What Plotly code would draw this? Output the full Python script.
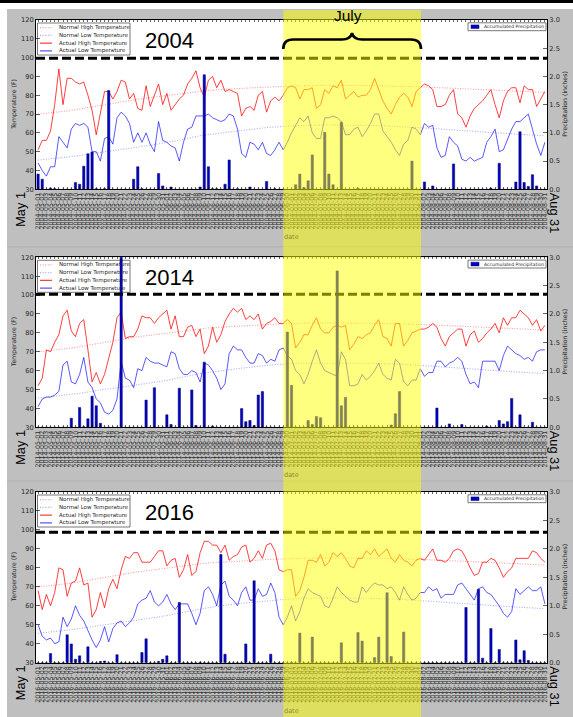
import pandas as pd
import plotly.graph_objects as go

# ---------------- data ----------------
years = [2004, 2014, 2016]

normal_high = [
    70.0, 70.2, 70.4, 70.6, 70.8, 71.0, 71.3, 71.5, 71.9, 72.3,
    72.7, 73.1, 73.5, 73.9, 74.2, 74.6, 75.0, 75.4, 75.7, 76.1,
    76.5, 76.9, 77.2, 77.6, 77.9, 78.2, 78.5, 78.8, 79.1, 79.4,
    79.7, 79.9, 80.2, 80.5, 80.8, 81.1, 81.4, 81.7, 82.0, 82.3,
    82.4, 82.6, 82.7, 82.9, 83.0, 83.1, 83.3, 83.4, 83.5, 83.7,
    83.8, 83.9, 84.0, 84.1, 84.2, 84.4, 84.5, 84.6, 84.7, 84.8,
    85.0, 85.0, 85.1, 85.1, 85.2, 85.2, 85.2, 85.3, 85.3, 85.3,
    85.3, 85.3, 85.3, 85.3, 85.3, 85.2, 85.2, 85.2, 85.2, 85.1,
    85.1, 85.1, 85.0, 85.0, 84.9, 84.9, 84.8, 84.8, 84.7, 84.7,
    84.6, 84.5, 84.5, 84.4, 84.3, 84.2, 84.1, 84.0, 83.9, 83.8,
    83.7, 83.6, 83.5, 83.4, 83.3, 83.2, 83.1, 83.0, 82.9, 82.8,
    82.7, 82.6, 82.5, 82.4, 82.3, 82.2, 82.1, 82.0, 81.9, 81.8,
    81.7, 81.6, 81.5]

normal_low = [
    45.5, 45.7, 45.9, 46.1, 46.3, 46.5, 46.8, 47.0, 47.4, 47.7,
    48.0, 48.4, 48.7, 49.1, 49.4, 49.8, 50.1, 50.3, 50.6, 50.9,
    51.2, 51.5, 51.7, 52.0, 52.3, 52.7, 53.0, 53.4, 53.8, 54.1,
    54.5, 54.8, 55.3, 55.7, 56.2, 56.6, 57.1, 57.5, 58.0, 58.5,
    58.8, 59.1, 59.4, 59.7, 59.9, 60.2, 60.5, 60.8, 61.1, 61.3,
    61.6, 61.8, 62.1, 62.3, 62.6, 62.8, 63.0, 63.2, 63.3, 63.5,
    63.6, 63.7, 63.8, 63.9, 63.9, 64.0, 64.0, 64.1, 64.1, 64.2,
    64.2, 64.2, 64.2, 64.2, 64.2, 64.1, 64.1, 64.1, 64.0, 64.0,
    64.0, 63.9, 63.8, 63.8, 63.7, 63.6, 63.5, 63.4, 63.3, 63.2,
    63.0, 62.9, 62.8, 62.6, 62.5, 62.3, 62.2, 62.0, 61.9, 61.7,
    61.5, 61.4, 61.2, 61.1, 61.0, 60.8, 60.7, 60.5, 60.4, 60.2,
    60.1, 59.9, 59.8, 59.6, 59.5, 59.3, 59.2, 59.1, 58.9, 58.8,
    58.7, 58.6, 58.5]

high_2004 = [
    51, 56, 56, 61, 75, 94, 75, 89, 89, 87,
    86, 87, 80, 72, 59, 70, 82, 82, 78, 82,
    88, 87, 78, 81, 73, 72, 85, 74, 80, 86,
    75, 81, 72, 75, 78, 80, 86, 89, 93, 84,
    79, 88, 90, 84, 88, 82, 83, 82, 81, 69,
    73, 74, 72, 80, 82, 71, 77, 79, 77, 80,
    84, 85, 84, 78, 83, 83, 84, 73, 75, 83,
    81, 85, 84, 88, 78, 80, 82, 79, 80, 80,
    83, 89, 83, 77, 73, 70, 75, 79, 81, 79,
    74, 82, 84, 86, 85, 83, 74, 74, 75, 80,
    83, 70, 68, 63, 69, 73, 75, 77, 80, 83,
    75, 68, 77, 82, 84, 84, 76, 85, 83, 83,
    74, 78, 82]

low_2004 = [
    44, 40, 37, 42, 42, 58, 55, 52, 62, 65,
    64, 65, 63, 50, 50, 45, 57, 58, 54, 68,
    71, 69, 65, 55, 60, 55, 60, 54, 50, 66,
    56, 55, 53, 52, 45, 55, 62, 63, 69, 69,
    69, 70, 68, 67, 66, 67, 70, 69, 62, 49,
    47, 55, 54, 51, 55, 49, 48, 51, 55, 51,
    55, 60, 64, 68, 66, 69, 60, 57, 57, 68,
    68, 69, 68, 66, 59, 59, 62, 63, 58, 61,
    65, 70, 70, 61, 58, 55, 51, 48, 54, 56,
    63, 62, 59, 65, 63, 64, 52, 47, 48, 58,
    55, 53, 46, 45, 47, 45, 46, 47, 55, 58,
    62, 50, 51, 56, 62, 66, 66, 68, 70, 62,
    54, 48, 55]

high_2014 = [
    52, 56, 71, 70, 75, 79, 89, 92, 81, 78,
    85, 87, 71, 54, 59, 53, 58, 66, 75, 88,
    91, 77, 78, 78, 82, 89, 88, 88, 85, 88,
    90, 92, 82, 89, 78, 78, 83, 84, 78, 82,
    69, 73, 83, 75, 79, 86, 90, 93, 91, 93,
    87, 89, 87, 90, 82, 85, 86, 88, 85, 85,
    87, 85, 72, 75, 79, 79, 84, 88, 82, 80,
    80, 83, 84, 83, 84, 71, 74, 78, 77, 79,
    80, 84, 87, 78, 77, 73, 85, 85, 73, 76,
    80, 81, 82, 82, 83, 85, 83, 77, 73, 78,
    80, 82, 82, 73, 79, 81, 75, 77, 80, 82,
    85, 80, 88, 84, 88, 88, 92, 90, 88, 84,
    87, 81, 84]

low_2014 = [
    41, 45, 46, 46, 47, 49, 63, 65, 54, 53,
    58, 67, 54, 51, 45, 43, 38, 37, 39, 45,
    65, 56, 55, 51, 61, 60, 67, 65, 64, 64,
    63, 62, 70, 69, 61, 58, 58, 60, 59, 54,
    64, 63, 60, 56, 50, 53, 69, 73, 71, 71,
    67, 64, 64, 69, 68, 64, 66, 65, 71, 72,
    68, 66, 60, 58, 53, 58, 65, 71, 64, 60,
    59, 58, 57, 70, 66, 52, 52, 53, 58, 55,
    57, 60, 64, 58, 56, 55, 66, 64, 54, 52,
    55, 55, 61, 57, 59, 59, 65, 65, 62, 64,
    65, 67, 65, 58, 53, 54, 51, 65, 65, 65,
    65, 60, 68, 73, 71, 69, 68, 66, 67, 65,
    70, 71, 71]

high_2016 = [
    68, 58, 66, 60, 67, 80, 79, 65, 72, 73,
    80, 71, 72, 54, 58, 67, 59, 69, 74, 69,
    79, 86, 85, 88, 88, 83, 83, 83, 86, 89,
    89, 81, 84, 85, 75, 79, 87, 76, 78, 88,
    94, 94, 92, 92, 88, 92, 84, 86, 87, 91,
    92, 83, 85, 89, 85, 92, 93, 89, 79, 78,
    79, 79, 65, 68, 75, 84, 84, 83, 87, 81,
    83, 88, 86, 88, 85, 81, 80, 85, 85, 89,
    87, 90, 86, 88, 90, 85, 83, 87, 84, 83,
    81, 84, 85, 84, 87, 90, 84, 84, 83, 85,
    89, 90, 89, 85, 80, 76, 77, 83, 83, 85,
    84, 80, 75, 78, 80, 85, 85, 85, 85, 89,
    88, 85, 83]

low_2016 = [
    50, 44, 42, 43, 40, 41, 54, 49, 53, 60,
    55, 52, 47, 42, 38, 42, 49, 41, 48, 51,
    52, 49, 51, 54, 61, 63, 64, 68, 62, 60,
    62, 66, 61, 58, 61, 61, 61, 56, 50, 56,
    68, 70, 66, 60, 71, 73, 65, 63, 60, 67,
    70, 63, 63, 69, 65, 66, 72, 67, 54, 50,
    54, 60, 52, 57, 64, 69, 67, 66, 65, 60,
    59, 64, 70, 67, 65, 63, 62, 62, 70, 67,
    70, 72, 71, 71, 69, 70, 67, 63, 70, 66,
    63, 64, 67, 67, 70, 68, 69, 64, 66, 66,
    66, 71, 72, 69, 66, 63, 69, 70, 67, 66,
    63, 60, 56, 54, 57, 69, 66, 68, 70, 68,
    68, 70, 61]

# daily precipitation (inches), day index -> value; other days are 0
precip_2004 = {0: 0.27, 1: 0.18, 3: 0.02, 4: 0.01, 9: 0.12, 10: 0.09, 11: 0.41,
               12: 0.63, 13: 0.66, 14: 0.01, 16: 0.01, 17: 1.75, 23: 0.18, 24: 0.40,
               25: 0.01, 29: 0.28, 30: 0.06, 32: 0.04, 39: 0.04, 40: 2.03, 41: 0.40,
               42: 0.01, 43: 0.01, 45: 0.09, 46: 0.52, 48: 0.01, 51: 0.04, 55: 0.14,
               57: 0.01, 62: 0.08, 63: 0.27, 64: 0.03, 65: 0.15, 66: 0.61, 69: 1.01,
               70: 0.27, 71: 0.08, 73: 1.19, 77: 0.02, 90: 0.50, 93: 0.13, 95: 0.06,
               100: 0.45, 109: 0.02, 111: 0.46, 115: 0.13, 116: 1.02, 117: 0.12,
               118: 0.05, 119: 0.26, 120: 0.06}
precip_2014 = {8: 0.16, 10: 0.35, 11: 0.01, 12: 0.15, 13: 0.55, 14: 0.38, 15: 0.07,
               20: 3.3, 26: 0.48, 28: 0.70, 31: 0.22, 32: 0.05, 34: 0.69, 37: 0.66,
               38: 0.03, 40: 1.15, 42: 0.02, 49: 0.33, 50: 0.10, 51: 0.12, 52: 0.03,
               53: 0.57, 54: 0.63, 60: 1.68, 61: 0.74, 65: 0.12, 66: 0.05, 67: 0.19,
               68: 0.17, 72: 2.76, 73: 0.38, 74: 0.53, 85: 0.04, 86: 0.24, 87: 0.63,
               96: 0.34, 99: 0.06, 102: 0.05, 108: 0.02, 111: 0.12, 112: 0.06,
               113: 0.10, 114: 0.51, 116: 0.22, 119: 0.09}
precip_2016 = {3: 0.16, 7: 0.49, 8: 0.33, 9: 0.06, 10: 0.12, 12: 0.28, 15: 0.02,
               16: 0.03, 19: 0.14, 25: 0.18, 26: 0.42, 29: 0.02, 30: 0.06, 31: 0.12,
               34: 1.06, 39: 0.01, 44: 1.90, 45: 0.15, 50: 0.33, 52: 1.44, 56: 0.15,
               61: 0.01, 63: 0.52, 66: 0.45, 73: 0.35, 77: 0.53, 78: 0.38, 81: 0.09,
               82: 0.45, 84: 1.23, 85: 0.11, 88: 0.54, 103: 0.97, 106: 1.29, 107: 0.08,
               109: 0.60, 111: 0.23, 115: 0.40, 116: 0.05, 117: 0.21, 118: 0.04}

thresholds = [99.6, 100.5, 98.8]

highs = {2004: high_2004, 2014: high_2014, 2016: high_2016}
lows = {2004: low_2004, 2014: low_2014, 2016: low_2016}
precips = {2004: precip_2004, 2014: precip_2014, 2016: precip_2016}

temp_ticks = list(range(30, 121, 10))
precip_ticks = [0.0, 0.5, 1.0, 1.5, 2.0, 2.5, 3.0]
date_labels = {y: pd.date_range(f"{y}-05-01", f"{y}-08-31").strftime("%Y-%m-%d").tolist()
               for y in years}
n_days = len(normal_high)
day_idx = list(range(n_days))

# ---------------- layout geometry (pixels) ----------------
W, H = 573, 717
ML, MR, MT, MB = 36, 26, 20, 54
PW, PH = W - ML - MR, H - MT - MB
panel_top = [20, 257.3, 492]
panel_bottom = [189.3, 427.3, 662.7]


def px_x(x):
    return (x - ML) / PW


def px_y(y):
    return (H - MB - y) / PH


def dx(xpx):
    return -0.5 + (xpx - ML) * n_days / PW


def dy(ypx, k):
    t, b = panel_top[k], panel_bottom[k]
    return 120 - (ypx - t) * 90 / (b - t)


GRAY = '#bfbfbf'
TXT = '#262626'
FONT = 'DejaVu Sans'
ARIAL = 'Liberation Sans'

c_nh = 'rgba(255,0,0,0.4)'
c_nl = 'rgba(40,40,255,0.4)'
c_ah = 'rgba(255,0,0,0.75)'
c_al = 'rgba(0,0,255,0.65)'
c_bar = '#0000cc'
DOT = '1px,1.6px'

fig = go.Figure()
shapes = []
annotations = []
layout_axes = {}

for k, yr in enumerate(years):
    xa = 'x' if k == 0 else f'x{k + 1}'
    yt = 'y' if k == 0 else f'y{2 * k + 1}'
    yp = f'y{2 * k + 2}'
    xkey = 'xaxis' if k == 0 else f'xaxis{k + 1}'
    ytkey = 'yaxis' if k == 0 else f'yaxis{2 * k + 1}'
    ypkey = f'yaxis{2 * k + 2}'
    t, b = panel_top[k], panel_bottom[k]

    fig.add_trace(go.Scatter(x=day_idx, y=normal_high, mode='lines', xaxis=xa, yaxis=yt,
                             line=dict(color=c_nh, width=1.1, dash=DOT),
                             showlegend=False, hoverinfo='skip'))
    fig.add_trace(go.Scatter(x=day_idx, y=normal_low, mode='lines', xaxis=xa, yaxis=yt,
                             line=dict(color=c_nl, width=1.1, dash=DOT),
                             showlegend=False, hoverinfo='skip'))
    fig.add_trace(go.Scatter(x=day_idx, y=highs[yr], mode='lines', xaxis=xa, yaxis=yt,
                             line=dict(color=c_ah, width=1),
                             showlegend=False, hoverinfo='skip'))
    fig.add_trace(go.Scatter(x=day_idx, y=lows[yr], mode='lines', xaxis=xa, yaxis=yt,
                             line=dict(color=c_al, width=1),
                             showlegend=False, hoverinfo='skip'))
    pvals = [precips[yr].get(i, 0.0) for i in day_idx]
    fig.add_trace(go.Bar(x=day_idx, y=pvals, xaxis=xa, yaxis=yp, width=0.55,
                         marker=dict(color=c_bar, line=dict(color='#000060', width=0.5)),
                         showlegend=False, hoverinfo='skip'))

    layout_axes[xkey] = dict(
        domain=[0, 1], anchor=yt, range=[-0.5, n_days - 0.5],
        tickmode='array', tickvals=day_idx, ticktext=date_labels[yr],
        tickangle=-90, tickfont=dict(family=FONT, size=6.3, color='#303030'),
        ticks='inside', ticklen=2, tickwidth=0.6, tickcolor='black',
        showline=True, linecolor='black', linewidth=1, mirror='ticks',
        showgrid=False, zeroline=False, automargin=False)
    layout_axes[ytkey] = dict(
        domain=[max(0, px_y(b)), px_y(t)], anchor=xa, range=[30, 120],
        tickmode='array', tickvals=temp_ticks,
        tickfont=dict(family=FONT, size=6.7, color=TXT),
        ticks='inside', ticklen=4, tickwidth=0.6, tickcolor='black',
        showline=True, linecolor='black', linewidth=1,
        showgrid=False, zeroline=False, automargin=False)
    layout_axes[ypkey] = dict(
        overlaying=yt, side='right', anchor=xa, range=[0, 3.0],
        tickmode='array', tickvals=precip_ticks, tickformat='.1f',
        tickfont=dict(family=FONT, size=6.7, color=TXT),
        ticks='inside', ticklen=4, tickwidth=0.6, tickcolor='black',
        showline=True, linecolor='black', linewidth=1,
        showgrid=False, zeroline=False, automargin=False)

    # ---- temperature legend (box + samples below data) ----
    shapes.append(dict(type='rect', xref=xa, yref=yt, layer='below',
                       x0=dx(37.5), x1=dx(130), y0=dy(t + 35, k), y1=dy(t + 3, k),
                       fillcolor='white', line=dict(color='#555555', width=0.8)))
    items = [('Normal High Temperature', c_nh, DOT),
             ('Normal Low Temperature', c_nl, DOT),
             ('Actual High Temperature', c_ah, 'solid'),
             ('Actual Low Temperature', c_al, 'solid')]
    for j, (label, col, dash) in enumerate(items):
        yy = t + 7.6 + j * 7.75
        shapes.append(dict(type='line', xref=xa, yref=yt, layer='below',
                           x0=dx(40), x1=dx(52), y0=dy(yy, k), y1=dy(yy, k),
                           line=dict(color=col, width=1.1, dash=dash)))
        annotations.append(dict(text=label, xref='paper', yref='paper',
                                x=px_x(56.5), y=px_y(yy), xanchor='left', yanchor='middle',
                                showarrow=False,
                                font=dict(family=FONT, size=5.5, color=TXT)))
    # ---- precipitation legend ----
    shapes.append(dict(type='rect', xref=xa, yref=yt, layer='below',
                       x0=dx(468), x1=dx(546), y0=dy(t + 10.7, k), y1=dy(t + 2.8, k),
                       fillcolor='white', line=dict(color='#555555', width=0.8)))
    shapes.append(dict(type='rect', xref=xa, yref=yt, layer='below',
                       x0=dx(471), x1=dx(479), y0=dy(t + 8.6, k), y1=dy(t + 4.9, k),
                       fillcolor=c_bar, line=dict(color='#000060', width=0.5)))
    annotations.append(dict(text='Accumulated Precipitation', xref='paper', yref='paper',
                            x=px_x(481.5), y=px_y(t + 6.8), xanchor='left', yanchor='middle',
                            showarrow=False, font=dict(family=FONT, size=4.6, color=TXT)))

    # ---- 100 F dashed reference line (under the yellow band) ----
    shapes.append(dict(type='line', xref=f'{xa} domain', yref=yt, layer='above',
                       x0=0, x1=1, y0=thresholds[k], y1=thresholds[k],
                       line=dict(color='black', width=3, dash='9px,4px')))

    # ---- texts ----
    annotations.append(dict(text=str(yr), xref='paper', yref='paper',
                            x=px_x(169.5), y=px_y(t + 20.5), xanchor='center', yanchor='middle',
                            showarrow=False, font=dict(family=ARIAL, size=22, color='black')))
    annotations.append(dict(text='Temperature (F)', xref='paper', yref='paper',
                            x=px_x(14), y=px_y((t + b) / 2), xanchor='center', yanchor='middle',
                            textangle=-90, showarrow=False,
                            font=dict(family=FONT, size=6.2, color=TXT)))
    annotations.append(dict(text='Precipitation (inches)', xref='paper', yref='paper',
                            x=px_x(565), y=px_y((t + b) / 2), xanchor='center', yanchor='middle',
                            textangle=-90, showarrow=False,
                            font=dict(family=FONT, size=6.2, color=TXT)))
    annotations.append(dict(text='May 1', xref='paper', yref='paper',
                            x=px_x(20.5), y=px_y(b + 20), xanchor='center', yanchor='middle',
                            textangle=-90, showarrow=False,
                            font=dict(family=ARIAL, size=12.8, color='black')))
    annotations.append(dict(text='Aug 31', xref='paper', yref='paper',
                            x=px_x(554.5), y=px_y(b + 24), xanchor='center', yanchor='middle',
                            textangle=90, showarrow=False,
                            font=dict(family=ARIAL, size=12.8, color='black')))
    annotations.append(dict(text='date', xref='paper', yref='paper',
                            x=px_x(291.5), y=px_y(b + 48), xanchor='center', yanchor='middle',
                            showarrow=False, font=dict(family=FONT, size=6.5, color='#8a8a35')))

# ---- frame: white strips, black top rule, separators ----
shapes.insert(0, dict(type='rect', xref='paper', yref='paper', layer='below',
                      x0=px_x(-3), x1=px_x(7), y0=px_y(720), y1=px_y(-3),
                      fillcolor='white', line=dict(width=0)))
shapes.insert(0, dict(type='rect', xref='paper', yref='paper', layer='below',
                      x0=px_x(-3), x1=px_x(576), y0=px_y(9), y1=px_y(-3),
                      fillcolor='white', line=dict(width=0)))
shapes.append(dict(type='rect', xref='paper', yref='paper', layer='above',
                   x0=px_x(-3), x1=px_x(576), y0=px_y(3), y1=px_y(-3),
                   fillcolor='black', line=dict(width=0)))
for ysep in [246.8, 481]:
    shapes.append(dict(type='line', xref='paper', yref='paper', layer='below',
                       x0=px_x(7), x1=px_x(576), y0=px_y(ysep), y1=px_y(ysep),
                       line=dict(color='#b0b0b0', width=1)))

# ---- July highlight band ----
shapes.append(dict(type='rect', xref='paper', yref='paper', layer='above',
                   x0=px_x(283.3), x1=px_x(421), y0=px_y(720), y1=px_y(10),
                   fillcolor='rgba(255,255,0,0.5)', line=dict(width=0)))

# ---- curly brace above the band ----
brace_pts = [('M', [(283.3, 49)]),
             ('Q', [(283.3, 39.5), (293, 39.5)]),
             ('L', [(342, 39.5)]),
             ('Q', [(350.5, 39.5), (352, 33)]),
             ('Q', [(353.5, 39.5), (362, 39.5)]),
             ('L', [(411, 39.5)]),
             ('Q', [(421, 39.5), (421, 49)])]
path = ' '.join(cmd + ' ' + ' '.join(f'{px_x(a):.5f},{px_y(c):.5f}' for a, c in pts)
                for cmd, pts in brace_pts)
shapes.append(dict(type='path', xref='paper', yref='paper', layer='above', path=path,
                   line=dict(color='black', width=2.6)))

annotations.append(dict(text='July', xref='paper', yref='paper',
                        x=px_x(348), y=px_y(15.5), xanchor='center', yanchor='middle',
                        showarrow=False, font=dict(family=ARIAL, size=15.5, color='black')))

fig.update_layout(
    width=W, height=H,
    margin=dict(l=ML, r=MR, t=MT, b=MB, pad=0),
    paper_bgcolor=GRAY, plot_bgcolor='white',
    showlegend=False, hovermode=False, bargap=0,
    shapes=shapes, annotations=annotations,
    **layout_axes)

# the figure fills the whole 573x717 page (no default 8px body margin)
fig.write_html('out.html',
               config={'displayModeBar': False, 'staticPlot': True},
               post_script="document.body.style.margin='0px';"
                           "document.body.style.overflow='hidden';")
